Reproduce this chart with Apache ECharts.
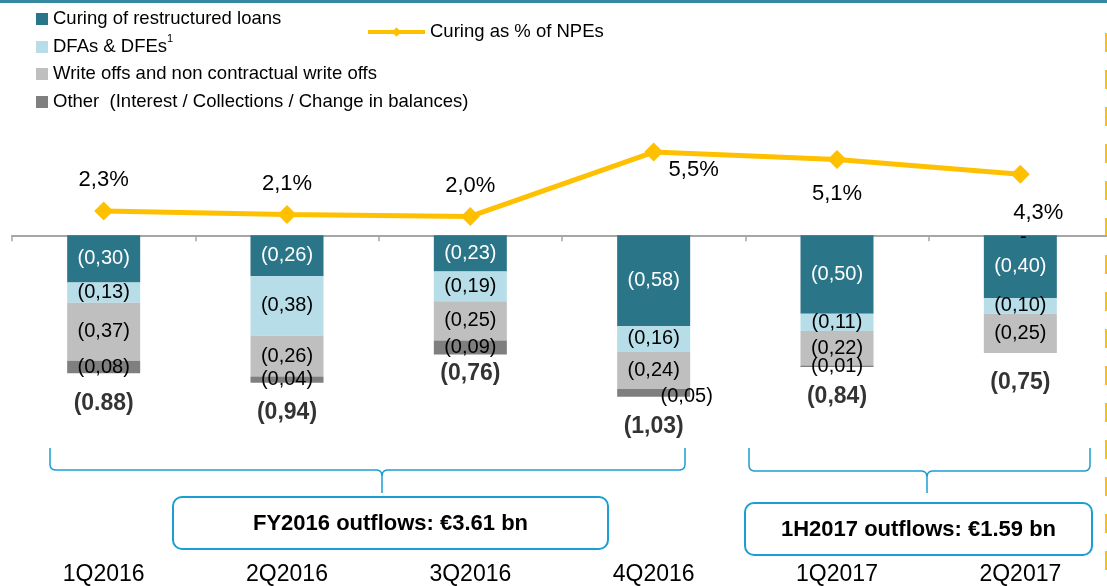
<!DOCTYPE html>
<html>
<head>
<meta charset="utf-8">
<script src="https://cdn.jsdelivr.net/npm/echarts@6/dist/echarts.min.js"></script>
<style>
  html, body { margin: 0; padding: 0; background: #ffffff; overflow: hidden; }
  /* the plot area runs a few pixels past the right edge of the page */
  #chart { width: 1112px; height: 586px; }
</style>
</head>
<body>
<div id="chart"></div>
<script>
// Quarterly NPE outflows (EUR bn) and curing ratio
const categories = ['1Q2016', '2Q2016', '3Q2016', '4Q2016', '1Q2017', '2Q2017'];
const curing = [0.30, 0.26, 0.23, 0.58, 0.50, 0.40];
const dfas = [0.13, 0.38, 0.19, 0.16, 0.11, 0.10];
const writeOffs = [0.37, 0.26, 0.25, 0.24, 0.22, 0.25];
const other = [0.08, 0.04, 0.09, 0.05, 0.01, 0];
const totals = [0.88, 0.94, 0.76, 1.03, 0.84, 0.75];
const totalDecimalMark = ['.', ',', ',', ',', ',', ','];
const curingPct = [2.3, 2.1, 2.0, 5.5, 5.1, 4.3];

const FONT = "'Liberation Sans', Arial, sans-serif";
const BRACE = '#1A9FD2';
const fmt = (v, sep) => v.toFixed(2).replace('.', sep || ',');

const chart = echarts.init(document.getElementById('chart'));

function barSeries(name, values, color, textColor, labelTweaks) {
  return {
    name: name,
    type: 'bar',
    stack: 'outflows',
    xAxisIndex: 0,
    yAxisIndex: 0,
    barWidth: 73,
    itemStyle: { color: color },
    label: {
      show: true,
      position: 'inside',
      color: textColor,
      fontSize: 20,
      formatter: p => values[p.dataIndex] === 0 ? '-' : '(' + fmt(values[p.dataIndex]) + ')'
    },
    data: values.map((v, i) => {
      // outflows are plotted downwards; a nil entry is kept on the positive
      // side so it sits on the axis line instead of below the stack
      const item = { value: v === 0 ? Number.EPSILON : -v };
      if (labelTweaks && labelTweaks[i]) item.label = labelTweaks[i];
      return item;
    })
  };
}

// label placement for the curing ratio points
const pctLabelPlacement = [
  { position: 'top', distance: 10 },
  { position: 'top', distance: 10 },
  { position: 'top', distance: 10 },
  { position: 'bottom', distance: 0, offset: [40, -3] },
  { position: 'bottom', distance: 14 },
  { position: 'bottom', distance: 18, offset: [18, 0] }
];

function squareLegend(name, top, extra) {
  return Object.assign({
    data: [name],
    left: 36,
    top: top,
    orient: 'horizontal',
    padding: 0,
    itemWidth: 12,
    itemHeight: 12,
    icon: 'rect',
    selectedMode: false,
    textStyle: { fontFamily: FONT, fontSize: 18.5, color: '#000', lineHeight: 22 }
  }, extra || {});
}

// curly brace: vertical ends at x0/x1, bar at y, spike at xm down to y2
function bracePoints(x0, x1, xm, yTop, y, y2) {
  const r = 5;
  return [
    [x0, yTop], [x0, y - r], [x0 + 0.7, y - 2.5], [x0 + 2.5, y - 0.7], [x0 + r, y],
    [xm - r, y], [xm - 2.5, y + 0.7], [xm - 0.7, y + 2.5], [xm, y + r + 1], [xm, y2],
    [xm, y + r + 1], [xm + 0.7, y + 2.5], [xm + 2.5, y + 0.7], [xm + r, y],
    [x1 - r, y], [x1 - 2.5, y - 0.7], [x1 - 0.7, y - 2.5], [x1, y - r], [x1, yTop]
  ];
}

const option = {
  animation: false,
  backgroundColor: '#ffffff',
  textStyle: { fontFamily: FONT },
  legend: [
    squareLegend('Curing of restructured loans', 8),
    squareLegend('DFAs & DFEs', 33, {
      formatter: n => '{a|' + n + '}{sup|1}',
      textStyle: {
        fontFamily: FONT, fontSize: 18.5, color: '#000',
        rich: {
          a: { fontFamily: FONT, fontSize: 18.5, color: '#000', lineHeight: 28 },
          sup: { fontFamily: FONT, fontSize: 11, color: '#000', lineHeight: 11, verticalAlign: 'top' }
        }
      }
    }),
    squareLegend('Write offs and non contractual write offs', 63),
    squareLegend('Other  (Interest / Collections / Change in balances)', 91),
    {
      data: ['Curing as % of NPEs'],
      left: 366,
      top: 21,
      padding: 0,
      itemWidth: 57,
      itemHeight: 12,
      selectedMode: false,
      lineStyle: { width: 4 },
      textStyle: { fontFamily: FONT, fontSize: 18.5, color: '#000', lineHeight: 22 }
    }
  ],
  grid: { left: 12, right: 0, top: 78.5, bottom: 32, containLabel: false },
  xAxis: [
    {
      type: 'category',
      data: categories,
      position: 'top',
      axisLine: { show: true, onZero: true, onZeroAxisIndex: 0, lineStyle: { color: '#A6A6A6', width: 2 } },
      axisTick: { show: true, inside: true, length: 6, lineStyle: { color: '#A6A6A6', width: 1.5 } },
      axisLabel: { show: false },
      splitLine: { show: false }
    },
    {
      type: 'category',
      data: categories,
      position: 'bottom',
      axisLine: { show: false },
      axisTick: { show: false },
      axisLabel: { show: true, margin: 14, fontSize: 23, color: '#000', fontFamily: FONT },
      splitLine: { show: false }
    }
  ],
  yAxis: [
    { type: 'value', min: -2, max: 1, show: false, splitLine: { show: false } },
    { type: 'value', min: -16.1, max: 9.505, show: false, splitLine: { show: false } }
  ],
  series: [
    barSeries('Curing of restructured loans', curing, '#2B7589', '#ffffff'),
    barSeries('DFAs & DFEs', dfas, '#B7DEE8', '#000000'),
    barSeries('Write offs and non contractual write offs', writeOffs, '#BFBFBF', '#000000'),
    barSeries('Other  (Interest / Collections / Change in balances)', other, '#7F7F7F', '#000000',
      [null, null, null, { offset: [33, 4] }, null, { offset: [3, 2] }]),
    {
      name: 'totals',
      type: 'scatter',
      xAxisIndex: 0,
      yAxisIndex: 0,
      symbolSize: 1,
      itemStyle: { color: 'rgba(0,0,0,0)' },
      silent: true,
      label: {
        show: true,
        position: 'bottom',
        distance: 18,
        fontSize: 23,
        fontWeight: 'bold',
        color: '#000',
        formatter: p => '(' + fmt(totals[p.dataIndex], totalDecimalMark[p.dataIndex]) + ')'
      },
      data: totals.map((v, i) => i === 2 ? { value: -v, label: { distance: 7 } } : -v)
    },
    {
      name: 'Curing as % of NPEs',
      type: 'line',
      xAxisIndex: 0,
      yAxisIndex: 1,
      symbol: 'diamond',
      symbolSize: 19,
      lineStyle: { color: '#FFC000', width: 5 },
      itemStyle: { color: '#FFC000' },
      z: 5,
      label: {
        show: true,
        fontSize: 22,
        color: '#000',
        formatter: p => curingPct[p.dataIndex].toFixed(1).replace('.', ',') + '%'
      },
      data: curingPct.map((v, i) => ({ value: v, label: pctLabelPlacement[i] }))
    }
  ],
  graphic: [
    { type: 'rect', left: 0, top: 0, shape: { width: 1112, height: 3 }, style: { fill: '#3589A0' }, silent: true },
    {
      type: 'line', silent: true,
      shape: { x1: 1106, y1: 33, x2: 1106, y2: 586 },
      style: { stroke: '#FFC000', lineWidth: 2, lineDash: [19, 18] }
    },
    {
      type: 'polyline', silent: true,
      shape: { points: bracePoints(50, 685, 382, 448, 470, 493) },
      style: { stroke: BRACE, lineWidth: 1.5, fill: null }
    },
    {
      type: 'polyline', silent: true,
      shape: { points: bracePoints(749, 1090, 927, 448, 471, 493) },
      style: { stroke: BRACE, lineWidth: 1.5, fill: null }
    },
    {
      type: 'rect', silent: true,
      shape: { x: 173, y: 497, width: 435, height: 52, r: 9 },
      style: { stroke: BRACE, lineWidth: 2, fill: '#ffffff' }
    },
    {
      type: 'text', silent: true, x: 390.5, y: 524,
      style: { text: 'FY2016 outflows: €3.61 bn', font: 'bold 22px ' + FONT, fill: '#000', align: 'center', verticalAlign: 'middle' }
    },
    {
      type: 'rect', silent: true,
      shape: { x: 745, y: 503, width: 347, height: 52, r: 9 },
      style: { stroke: BRACE, lineWidth: 2, fill: '#ffffff' }
    },
    {
      type: 'text', silent: true, x: 918.5, y: 530,
      style: { text: '1H2017 outflows: €1.59 bn', font: 'bold 22px ' + FONT, fill: '#000', align: 'center', verticalAlign: 'middle' }
    }
  ]
};

chart.setOption(option);
</script>
</body>
</html>
